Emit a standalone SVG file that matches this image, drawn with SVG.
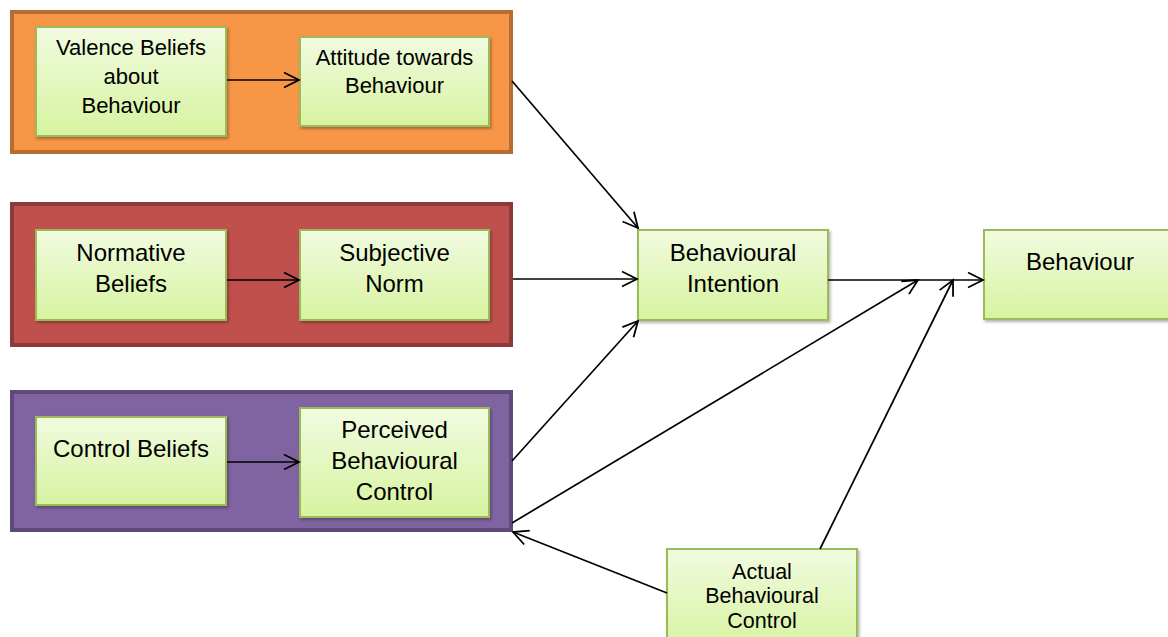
<svg xmlns="http://www.w3.org/2000/svg" width="1168" height="637" viewBox="0 0 1168 637">
<style>
.box{fill:url(#g);stroke:#9BBB59;stroke-width:2;filter:url(#sh)}
.t{font-family:"Liberation Sans",Arial,sans-serif;fill:#000;text-anchor:middle}
.c{stroke:#000;stroke-width:1.7;fill:none;marker-end:url(#ah)}
</style>
<defs>
<linearGradient id="g" x1="0" y1="0" x2="0" y2="1">
<stop offset="0" stop-color="#F1FBE0"/>
<stop offset="1" stop-color="#D7F3A0"/>
</linearGradient>
<filter id="sh" x="-10%" y="-10%" width="130%" height="130%">
<feDropShadow dx="1.5" dy="2" stdDeviation="1.5" flood-color="#000" flood-opacity="0.3"/>
</filter>
<marker id="ah" viewBox="0 0 20 20" refX="18" refY="10" markerWidth="20" markerHeight="20" markerUnits="userSpaceOnUse" orient="auto">
<path d="M3,2.5 L18,10 L3,17.5" fill="none" stroke="#000" stroke-width="1.8"/>
</marker>
</defs>
<g id="group-attitude"><rect x="12" y="12" width="499" height="140" fill="#F79646" stroke="#B66D31" stroke-width="4"/></g>
<g id="group-norm"><rect x="12" y="204" width="499" height="141" fill="#C0504D" stroke="#8C3A38" stroke-width="4"/></g>
<g id="group-control"><rect x="12" y="392" width="499" height="138" fill="#8064A2" stroke="#5F4B7A" stroke-width="4"/></g>

<g id="valence"><rect class="box" x="36" y="27" width="190" height="109"/>
<text class="t" font-size="22"><tspan x="131" y="55">Valence Beliefs</tspan><tspan x="131" y="84">about</tspan><tspan x="131" y="113">Behaviour</tspan></text></g>
<g id="attitude"><rect class="box" x="300" y="37" width="189" height="89"/>
<text class="t" font-size="22"><tspan x="394.5" y="65">Attitude towards</tspan><tspan x="394.5" y="93">Behaviour</tspan></text></g>

<g id="normative"><rect class="box" x="36" y="230" width="190" height="90"/>
<text class="t" font-size="24"><tspan x="131" y="261">Normative</tspan><tspan x="131" y="292">Beliefs</tspan></text></g>
<g id="subjective"><rect class="box" x="300" y="230" width="189" height="90"/>
<text class="t" font-size="24"><tspan x="394.5" y="261">Subjective</tspan><tspan x="394.5" y="292">Norm</tspan></text></g>

<g id="controlbeliefs"><rect class="box" x="36" y="417" width="190" height="88"/>
<text class="t" font-size="24" x="131" y="457">Control Beliefs</text></g>
<g id="perceived"><rect class="box" x="300" y="408" width="189" height="109"/>
<text class="t" font-size="24"><tspan x="394.5" y="438">Perceived</tspan><tspan x="394.5" y="469">Behavioural</tspan><tspan x="394.5" y="500">Control</tspan></text></g>

<g id="intention"><rect class="box" x="638" y="230" width="190" height="90"/>
<text class="t" font-size="24"><tspan x="733" y="261">Behavioural</tspan><tspan x="733" y="292">Intention</tspan></text></g>
<g id="behaviour"><rect class="box" x="984" y="230" width="192" height="89"/>
<text class="t" font-size="24" x="1080" y="270">Behaviour</text></g>
<g id="actual"><rect class="box" x="667" y="549" width="190" height="100"/>
<text class="t" font-size="21.5"><tspan x="762" y="579">Actual</tspan><tspan x="762" y="603">Behavioural</tspan><tspan x="762" y="628">Control</tspan></text></g>

<g id="connectors">
<line class="c" x1="227" y1="80" x2="299" y2="80"/>
<line class="c" x1="227" y1="280" x2="299" y2="280"/>
<line class="c" x1="227" y1="462" x2="299" y2="462"/>
<line class="c" x1="512" y1="81" x2="638" y2="228"/>
<line class="c" x1="513" y1="279" x2="637" y2="279"/>
<line class="c" x1="512" y1="461" x2="638" y2="321"/>
<line class="c" x1="828" y1="280" x2="983" y2="280"/>
<line class="c" x1="512" y1="523" x2="918" y2="280"/>
<line class="c" x1="820" y1="549" x2="953" y2="280"/>
<line class="c" x1="667" y1="593" x2="513" y2="532"/>
</g>
</svg>
